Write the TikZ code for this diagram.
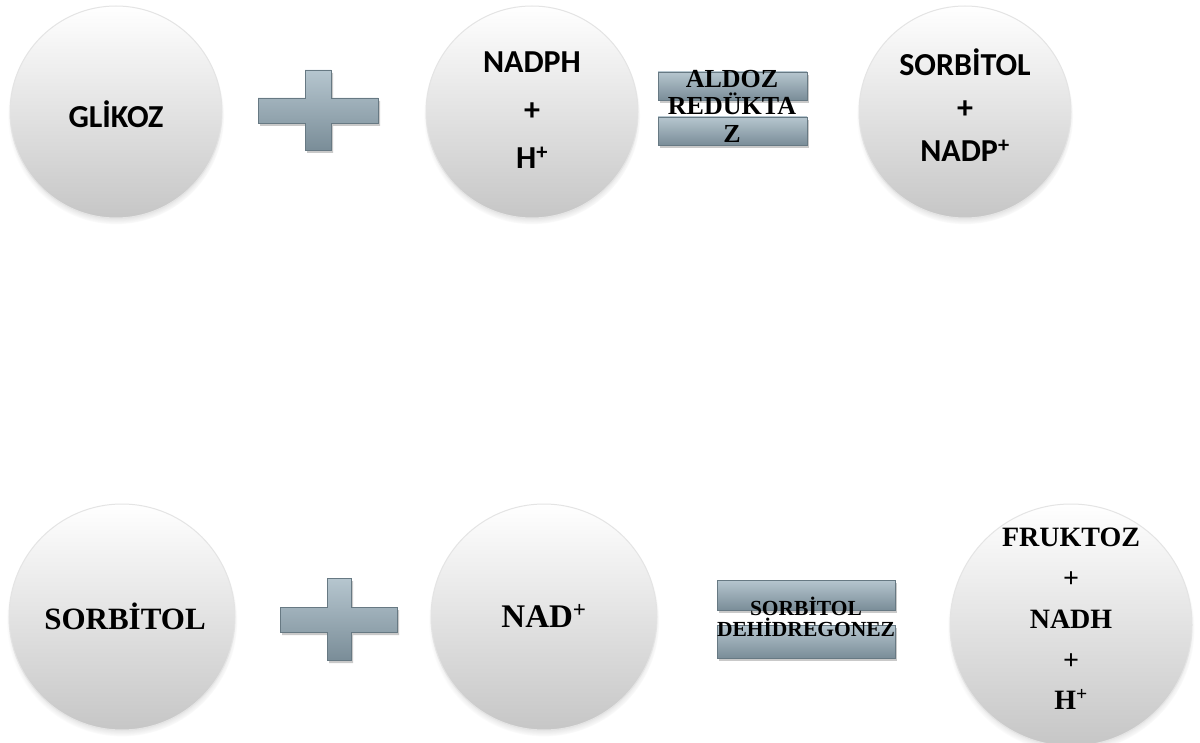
\documentclass[tikz,border=0pt]{standalone}
\usepackage{fontspec}
\setmainfont{Liberation Serif}
\newfontfamily\carl{Carlito}
\usetikzlibrary{shadows}
\definecolor{steelL}{HTML}{B6C6CF}
\definecolor{steelD}{HTML}{7A8D98}
\definecolor{steelE}{HTML}{677983}
\definecolor{ballB}{HTML}{C6C6C6}
\definecolor{rimC}{HTML}{E4E4E4}
\tikzset{
  ball/.style={circle, inner sep=0pt, minimum size=#1, top color=white, bottom color=ballB,
    draw=rimC, line width=1pt,
    circular drop shadow={shadow xshift=0pt, shadow yshift=-4pt, shadow scale=1.02, opacity=.45, fill=black!55}},
  steel/.style={top color=steelL, bottom color=steelD, draw=steelE, line width=0.6pt,
    drop shadow={shadow xshift=2pt, shadow yshift=-3pt, opacity=.35, fill=black!60}},
  sanslbl/.style={align=center, font=\carl\bfseries\fontsize{32}{#1}\selectfont, inner sep=0pt},
  seriflbl/.style={align=center, font=\bfseries\fontsize{28}{#1}\selectfont, inner sep=0pt},
}
\begin{document}
\begin{tikzpicture}[x=1pt,y=-1pt]
\useasboundingbox[fill=white] (0,0) rectangle (1200,743);
% top row circles
\node[ball=212pt] (c1) at (116,112) {};
\node[ball=212pt] (c2) at (532,112) {};
\node[ball=212pt] (c3) at (965,112) {};
% bottom row circles
\node[ball=226pt] (c4) at (122,617) {};
\node[ball=226pt] (c5) at (544,617) {};
\node[ball=242pt] (c6) at (1071,625) {};
% plus signs
\path[steel] (258,98) -- (305,98) -- (305,70) -- (331,70) -- (331,98) -- (378,98) -- (378,123)
  -- (331,123) -- (331,150) -- (305,150) -- (305,123) -- (258,123) -- cycle;
\path[steel] (280,607) -- (327,607) -- (327,578) -- (351,578) -- (351,607) -- (397,607) -- (397,632)
  -- (351,632) -- (351,660) -- (327,660) -- (327,632) -- (280,632) -- cycle;
% equals bars
\path[steel] (658,72) rectangle (807,100);
\path[steel] (658,117) rectangle (807,145);
\path[steel] (717,580) rectangle (895,610);
\path[steel] (717,625) rectangle (895,658);
% labels
\node[sanslbl=32] (t1) at (c1) [yshift=-2pt] {GLİKOZ};
\node[sanslbl=48] (t2) at (532,110) {NADPH\\+\\H\textsuperscript{+}};
\node[sanslbl=43] (t3) at (965,105) {SORBİTOL\\+\\NADP\textsuperscript{+}};
\node[align=center, inner sep=0pt, font=\bfseries\fontsize{26}{27.5}\selectfont] (e1) at (732,106) {ALDOZ\\REDÜKTA\\Z};
\node[align=center, inner sep=0pt, font=\bfseries\fontsize{31}{31}\selectfont] (t4) at (125,616) {SORBİTOL};
\node[align=center, inner sep=0pt, font=\bfseries\fontsize{33}{33}\selectfont] (t5) at (544,616) {NAD\textsuperscript{+}};
\node[seriflbl=40.75] (t6) at (1071,619) {FRUKTOZ\\+\\NADH\\+\\H\textsuperscript{+}};
\node[align=center, inner sep=0pt, font=\bfseries\fontsize{21.5}{21}\selectfont] (e2) at (806,616.5) {SORBİTOL\\DEHİDREGONEZ};
\end{tikzpicture}
\end{document}
